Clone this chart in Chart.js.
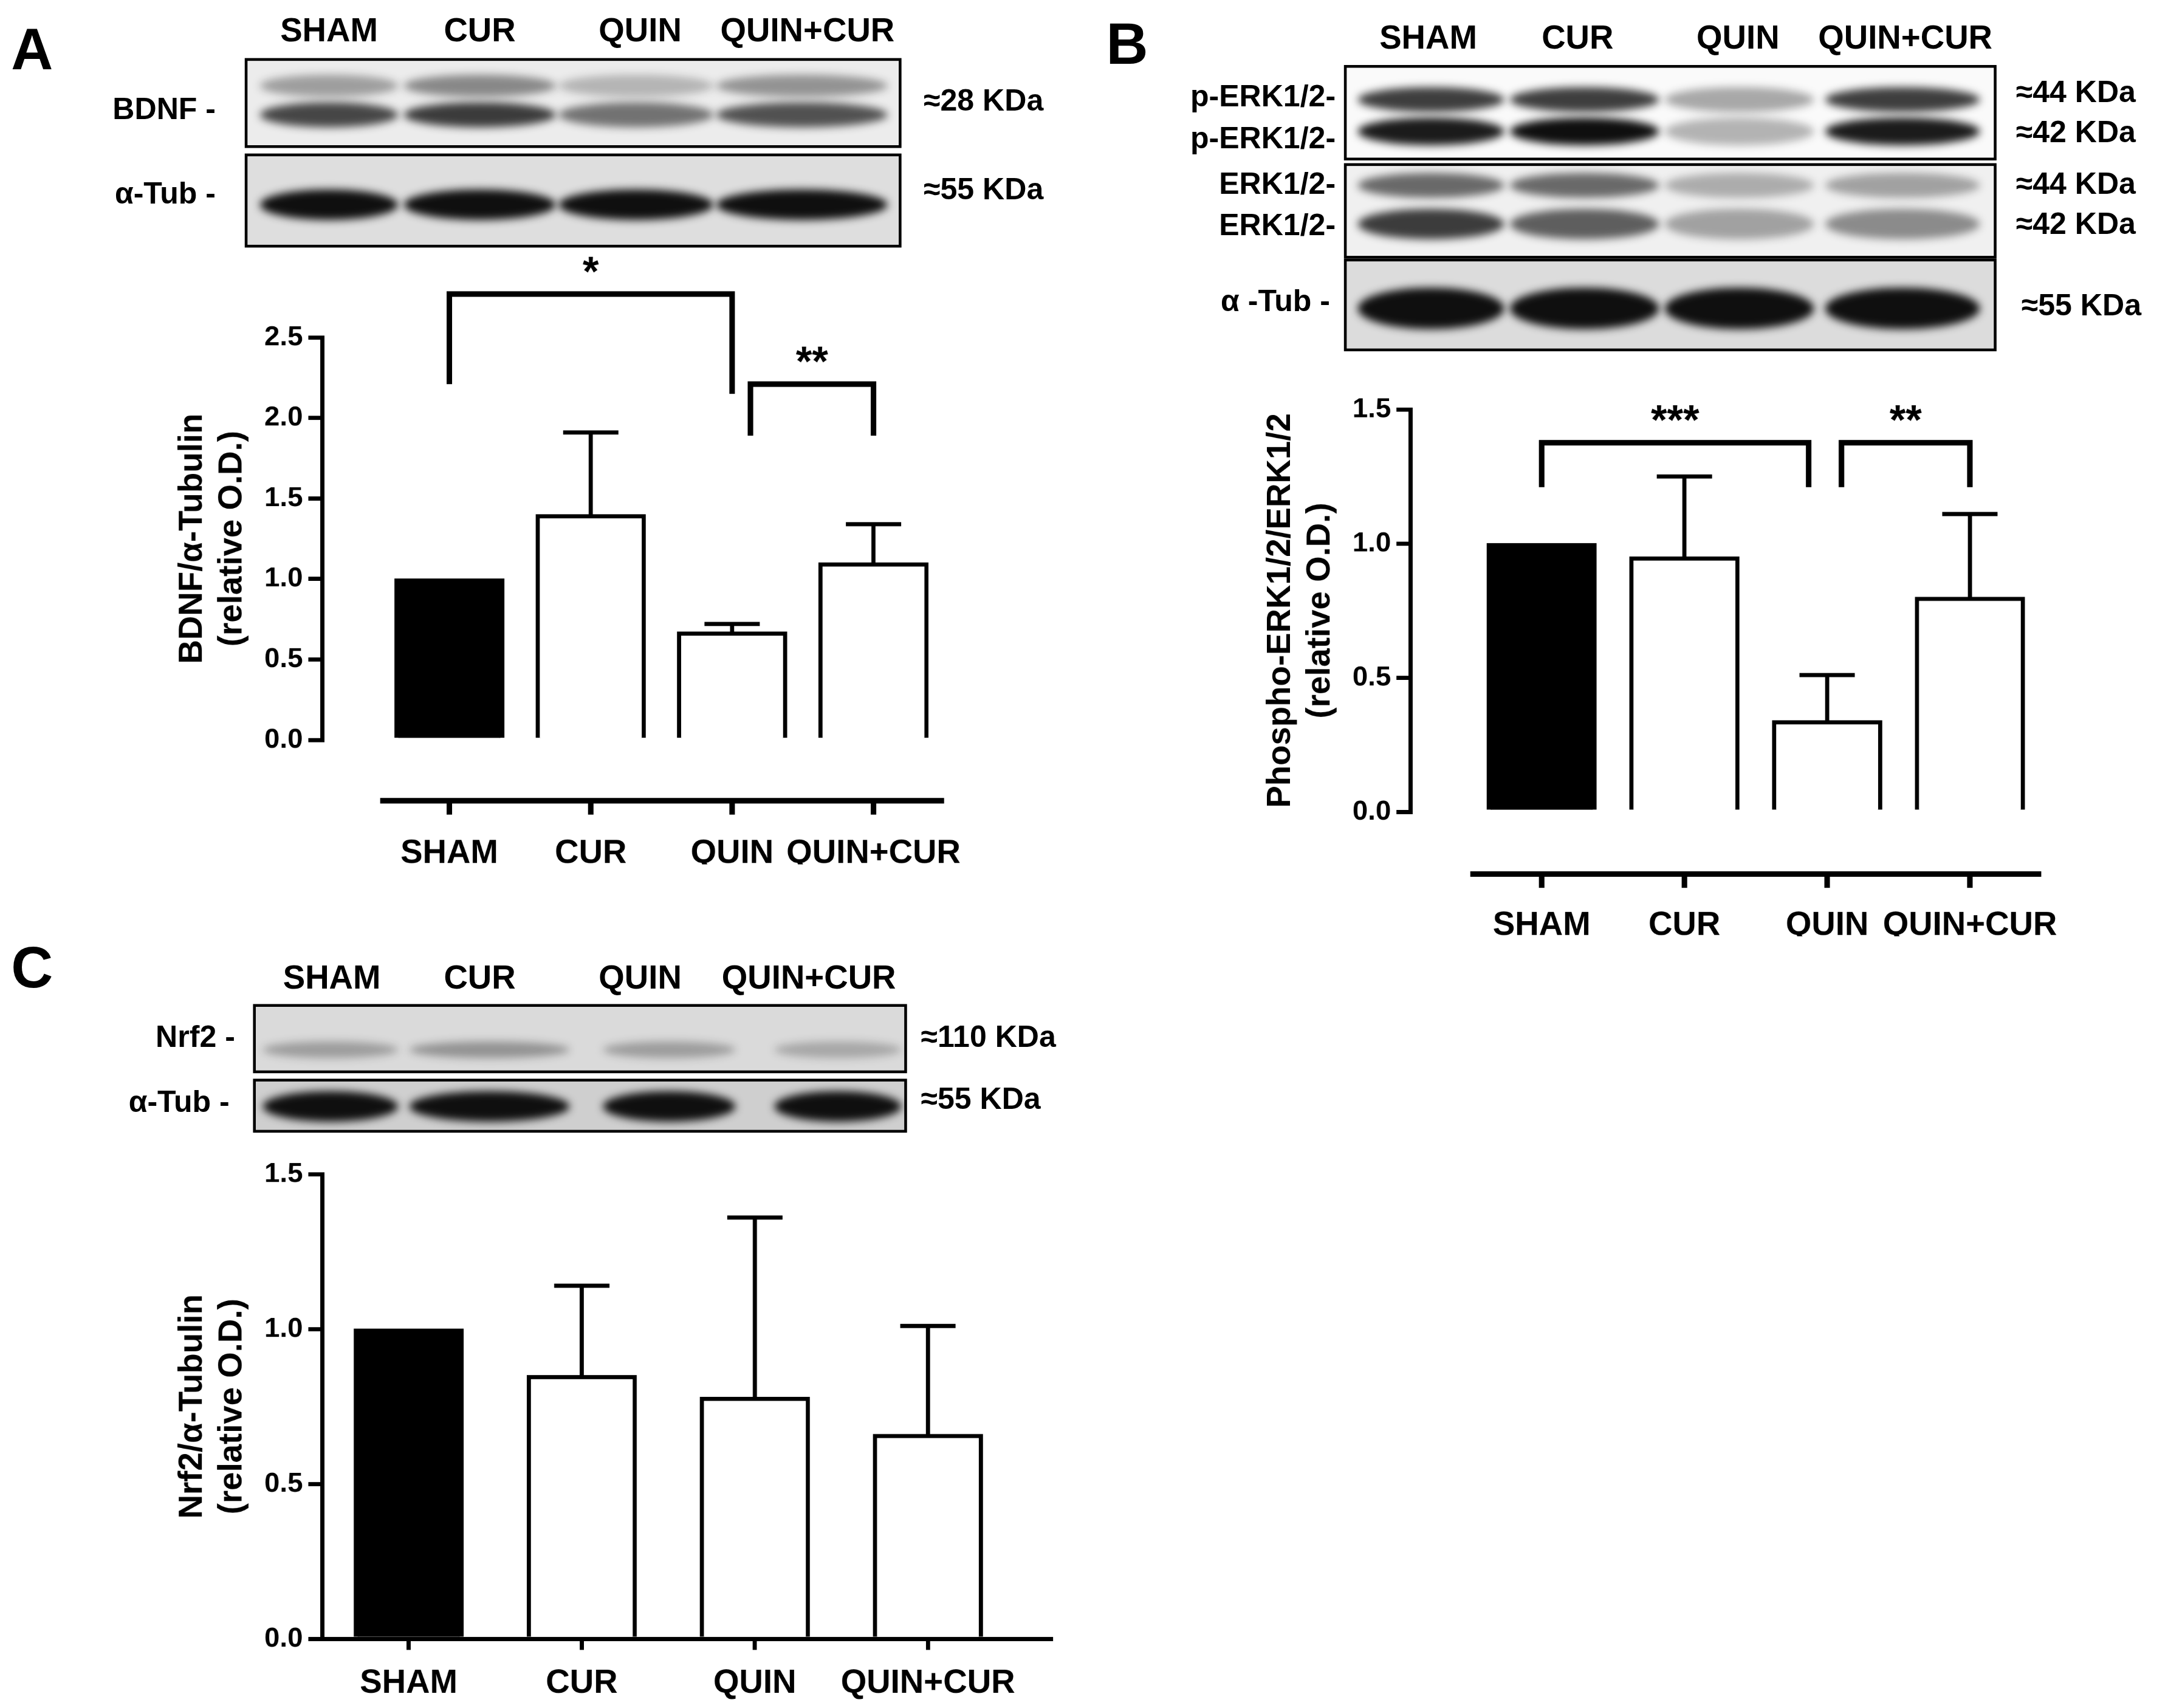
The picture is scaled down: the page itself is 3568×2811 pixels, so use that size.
<!DOCTYPE html>
<html>
<head>
<meta charset="utf-8">
<script src="https://cdn.jsdelivr.net/npm/chart.js@4"></script>
<style>
  html, body { margin: 0; padding: 0; background: #fff; overflow: hidden; }
  #stage { position: absolute; left: 0; top: 0; width: 1568px; height: 1235px;
           transform: scale(2.2755, 2.2761); transform-origin: 0 0;
           font-family: "Liberation Sans", Arial, sans-serif; font-weight: bold; color: #000; }
  .lbl { position: absolute; white-space: nowrap; line-height: 1; }
  .box { position: absolute; }
</style>
</head>
<body>
<div id="stage">
  <canvas id="blots" width="3568" height="2811" style="position:absolute;left:0;top:0;width:1568px;height:1235px"></canvas>
  <div class="box" style="left:123px;top:184px"><canvas id="chartA" width="634" height="441"></canvas></div>
  <div class="box" style="left:910px;top:236px"><canvas id="chartB" width="640" height="441"></canvas></div>
  <div class="box" style="left:123px;top:829px"><canvas id="chartC" width="657" height="416"></canvas></div>
</div>
<script>
// data
const groups = ['SHAM', 'CUR', 'QUIN', 'QUIN+CUR'];
const bdnf = [1.0, 1.40, 0.67, 1.10];
const bdnfErr = [1.0, 1.91, 0.72, 1.34];
const erk = [1.0, 0.95, 0.34, 0.80];
const erkErr = [1.0, 1.25, 0.51, 1.11];
const nrf2 = [1.0, 0.85, 0.78, 0.66];
const nrf2Err = [1.0, 1.14, 1.36, 1.01];
const ticksA = [0, 0.5, 1.0, 1.5, 2.0, 2.5];
const ticksB = [0, 0.5, 1.0, 1.5];

const stage = document.getElementById('stage');
function label(text, x, y, size, align) {
  const d = document.createElement('div');
  d.className = 'lbl';
  d.textContent = text;
  d.style.fontSize = size + 'px';
  d.style.top = (y - size * 0.5) + 'px';
  if (align === 'right') { d.style.right = (1568 - x) + 'px'; }
  else if (align === 'left') { d.style.left = x + 'px'; }
  else { d.style.left = x + 'px'; d.style.transform = 'translateX(-50%)'; }
  stage.appendChild(d);
}

// panel letters
label('A', 8, 36, 42, 'left');
label('B', 800, 32, 42, 'left');
label('C', 8, 700, 42, 'left');

// blot headers
[[238, 347, 463, 584, 22], [1033, 1141, 1257, 1378, 27], [240, 347, 463, 585, 707]].forEach(r => {
  groups.forEach((g, i) => label(g, r[i], r[4], 24));
});
label('BDNF -', 156, 79, 22, 'right');
label('α-Tub -', 156, 140, 22, 'right');
label('≈28 KDa', 668, 73, 22, 'left');
label('≈55 KDa', 668, 137, 22, 'left');
label('p-ERK1/2-', 966, 70, 22, 'right');
label('p-ERK1/2-', 966, 100, 22, 'right');
label('ERK1/2-', 966, 133, 22, 'right');
label('ERK1/2-', 966, 163, 22, 'right');
label('α -Tub -', 962, 218, 22, 'right');
label('≈44 KDa', 1458, 67, 22, 'left');
label('≈42 KDa', 1458, 96, 22, 'left');
label('≈44 KDa', 1458, 133, 22, 'left');
label('≈42 KDa', 1458, 162, 22, 'left');
label('≈55 KDa', 1462, 221, 22, 'left');
label('Nrf2 -', 170, 750, 22, 'right');
label('α-Tub -', 166, 797, 22, 'right');
label('≈110 KDa', 666, 750, 22, 'left');
label('≈55 KDa', 666, 795, 22, 'left');

// blot pictures
const bc = document.getElementById('blots').getContext('2d');
bc.scale(3568 / 1568, 2811 / 1235);
function blot(x, y, w, h, bg, lanes, rows) {
  bc.save();
  bc.fillStyle = bg;
  bc.fillRect(x, y, w, h);
  bc.beginPath(); bc.rect(x, y, w, h); bc.clip();
  bc.filter = 'blur(7px)';
  rows.forEach(r => {
    lanes.forEach((l, i) => {
      bc.fillStyle = 'rgba(15,15,15,' + r.a[i] + ')';
      bc.beginPath();
      bc.ellipse((l[0] + l[1]) / 2, r.cy, (l[1] - l[0]) / 2, r.h / 2, 0, 0, Math.PI * 2);
      bc.fill();
    });
  });
  bc.restore();
  bc.lineWidth = 2;
  bc.strokeStyle = '#000';
  bc.strokeRect(x, y, w, h);
}
const lanesA = [[188, 288], [292, 402], [404, 516], [518, 642]];
const lanesB = [[982, 1088], [1092, 1200], [1204, 1312], [1320, 1432]];
const lanesC = [[190, 288], [296, 412], [436, 532], [560, 652]];
blot(178, 43, 473, 63, '#ececec', lanesA, [{ cy: 62, h: 16, a: [0.35, 0.45, 0.25, 0.4] }, { cy: 83, h: 18, a: [0.75, 0.8, 0.55, 0.7] }]);
blot(178, 112, 473, 66, '#dedede', lanesA, [{ cy: 148, h: 22, a: [1, 1, 1, 1] }]);
blot(973, 48, 470, 67, '#fafafa', lanesB, [{ cy: 72, h: 18, a: [0.8, 0.8, 0.35, 0.8] }, { cy: 95, h: 20, a: [0.95, 1, 0.3, 0.95] }]);
blot(973, 119, 470, 67, '#f0f0f0', lanesB, [{ cy: 134, h: 18, a: [0.6, 0.6, 0.3, 0.35] }, { cy: 162, h: 22, a: [0.8, 0.65, 0.35, 0.45] }]);
blot(973, 188, 470, 65, '#dcdcdc', lanesB, [{ cy: 223, h: 30, a: [1, 1, 1, 1] }]);
blot(184, 727, 471, 48, '#dadada', lanesC, [{ cy: 759, h: 12, a: [0.3, 0.35, 0.3, 0.25] }]);
blot(184, 781, 471, 37, '#cfcfcf', lanesC, [{ cy: 800, h: 22, a: [1, 1, 1, 1] }]);

// chart helpers
const extras = {
  id: 'extras',
  afterDatasetsDraw(chart, args, o) {
    const { ctx, chartArea } = chart;
    const x = chart.scales.x, y = chart.scales.y;
    ctx.save();
    ctx.strokeStyle = '#000';
    ctx.fillStyle = '#000';
    ctx.lineWidth = 3;
    o.err.forEach((e, i) => {
      if (e <= o.vals[i]) return;
      const cx = x.getPixelForValue(i);
      ctx.beginPath();
      ctx.moveTo(cx, y.getPixelForValue(o.vals[i]));
      ctx.lineTo(cx, y.getPixelForValue(e));
      ctx.moveTo(cx - 20, y.getPixelForValue(e));
      ctx.lineTo(cx + 20, y.getPixelForValue(e));
      ctx.stroke();
    });
    if (o.axis) {
      const ly = chartArea.bottom + o.axis.off;
      ctx.lineWidth = 4;
      ctx.beginPath();
      ctx.moveTo(x.getPixelForValue(o.axis.from), ly);
      ctx.lineTo(x.getPixelForValue(o.axis.to), ly);
      groups.forEach((g, i) => {
        const cx = x.getPixelForValue(i);
        ctx.moveTo(cx, ly); ctx.lineTo(cx, ly + 10);
      });
      ctx.stroke();
    }
    ctx.lineWidth = 4;
    ctx.font = 'bold 30px "Liberation Sans", Arial';
    ctx.textAlign = 'center';
    (o.brackets || []).forEach(b => {
      const x1 = x.getPixelForValue(b.from), x2 = x.getPixelForValue(b.to);
      const t = y.getPixelForValue(b.top);
      ctx.beginPath();
      ctx.moveTo(x1, y.getPixelForValue(b.l1));
      ctx.lineTo(x1, t); ctx.lineTo(x2, t);
      ctx.lineTo(x2, y.getPixelForValue(b.l2));
      ctx.stroke();
      ctx.fillText(b.star, (x1 + x2) / 2, t - 6);
    });
    ctx.restore();
  }
};

function makeChart(id, vals, err, opts) {
  return new Chart(document.getElementById(id), {
    type: 'bar',
    data: {
      datasets: [{
        data: vals.map((v, i) => ({ x: i, y: v })),
        backgroundColor: vals.map((v, i) => i === 0 ? '#000' : '#fff'),
        borderColor: '#000',
        borderWidth: 3,
        barThickness: 79
      }]
    },
    plugins: [extras],
    options: {
      responsive: false,
      animation: false,
      devicePixelRatio: 3,
      layout: { padding: { top: opts.padTop, right: 20, left: 0, bottom: 0 } },
      plugins: {
        legend: { display: false },
        tooltip: { enabled: false },
        extras: { vals: vals, err: err, axis: opts.axis, brackets: opts.brackets }
      },
      scales: {
        x: {
          type: 'linear', min: opts.xmin, max: opts.xmax, offset: false,
          afterBuildTicks: s => { s.ticks = groups.map((g, i) => ({ value: i })); },
          afterFit: s => { s.height = opts.xh; },
          grid: { display: opts.attached, offset: false, drawOnChartArea: false, color: '#000', lineWidth: 3, tickLength: 8 },
          border: { display: opts.attached, color: '#000', width: 3 },
          ticks: {
            padding: opts.xpad, color: '#000', maxRotation: 0, autoSkip: false,
            font: { family: 'Liberation Sans', weight: 'bold', size: 24 },
            callback: v => groups[v]
          }
        },
        y: {
          min: 0, max: opts.ymax,
          afterBuildTicks: s => { s.ticks = opts.yticks.map(v => ({ value: v })); },
          afterFit: s => { s.width = 110; },
          grid: { drawOnChartArea: false, color: '#000', lineWidth: 3, tickLength: 10 },
          border: { color: '#000', width: 3 },
          ticks: {
            color: '#000', padding: 4,
            font: { family: 'Liberation Sans', weight: 'bold', size: 20 },
            callback: v => v.toFixed(1)
          },
          title: {
            display: true, text: opts.title, color: '#000', padding: 2,
            font: { family: 'Liberation Sans', weight: 'bold', size: 24 }
          }
        }
      }
    }
  });
}

makeChart('chartA', bdnf, bdnfErr, {
  padTop: 60, xmin: -0.9, xmax: 3.5, xh: 90, xpad: 60, attached: false,
  ymax: 2.5, yticks: ticksA, title: ['BDNF/α-Tubulin', '(relative O.D.)'],
  axis: { off: 44, from: -0.49, to: 3.5 },
  brackets: [
    { from: 0, to: 2, top: 2.77, l1: 2.21, l2: 2.15, star: '*' },
    { from: 2.13, to: 3, top: 2.21, l1: 1.89, l2: 1.89, star: '**' }
  ]
});
makeChart('chartB', erk, erkErr, {
  padTop: 60, xmin: -0.92, xmax: 3.5, xh: 90, xpad: 60, attached: false,
  ymax: 1.5, yticks: ticksB, title: ['Phospho-ERK1/2/ERK1/2', '(relative O.D.)'],
  axis: { off: 45, from: -0.5, to: 3.5 },
  brackets: [
    { from: 0, to: 1.87, top: 1.376, l1: 1.21, l2: 1.21, star: '***' },
    { from: 2.1, to: 3, top: 1.376, l1: 1.21, l2: 1.21, star: '**' }
  ]
});
makeChart('chartC', nrf2, nrf2Err, {
  padTop: 20, xmin: -0.5, xmax: 3.71, xh: 60, xpad: 10, attached: true,
  ymax: 1.5, yticks: ticksB, title: ['Nrf2/α-Tubulin', '(relative O.D.)'],
  axis: null, brackets: []
});
</script>
</body>
</html>
